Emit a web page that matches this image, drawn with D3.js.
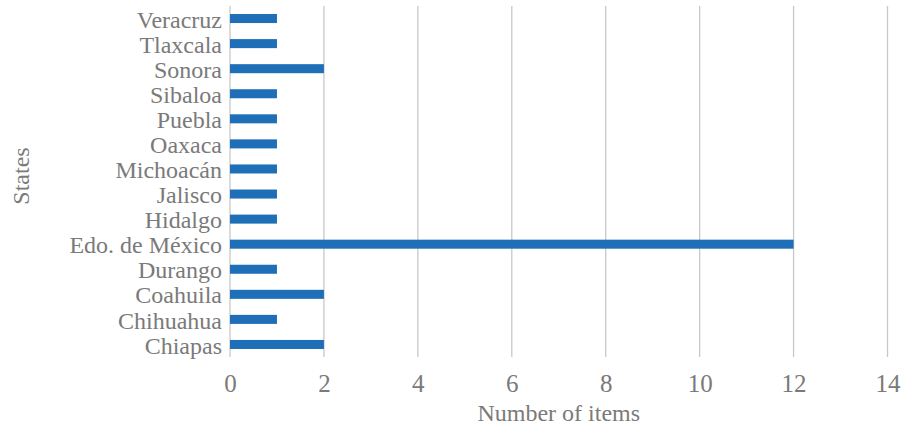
<!DOCTYPE html>
<html>
<head>
<meta charset="utf-8">
<script src="https://cdn.jsdelivr.net/npm/d3@7"></script>
<style>
  body { margin: 0; background: #fff; }
  text { fill: #7a7a7a; }
</style>
</head>
<body>
<div id="chart"></div>
<script>
// categories, top to bottom
var states = ["Veracruz", "Tlaxcala", "Sonora", "Sibaloa", "Puebla", "Oaxaca", "Michoacán",
              "Jalisco", "Hidalgo", "Edo. de México", "Durango", "Coahuila", "Chihuahua", "Chiapas"];
var items = [1, 1, 2, 1, 1, 1, 1, 1, 1, 12, 1, 2, 1, 2];
var xTicks = [0, 2, 4, 6, 8, 10, 12, 14];

var serif = "'Liberation Serif', 'DejaVu Serif', serif";
var W = 908, H = 431;
var plotLeft = 230, plotRight = 887.5, plotTop = 6, plotBottom = 357;

var svg = d3.select("#chart").append("svg")
    .attr("width", W)
    .attr("height", H)
    .attr("font-family", serif);

var x = d3.scaleLinear().domain([0, 14]).range([plotLeft, plotRight]);
var y = d3.scaleBand().domain(states).range([plotTop, plotBottom]).paddingInner(0.64).paddingOuter(0.32);

// grid lines
svg.selectAll(".grid")
    .data(xTicks)
    .enter()
    .append("line")
        .attr("x1", d => x(d))
        .attr("x2", d => x(d))
        .attr("y1", plotTop)
        .attr("y2", plotBottom)
        .style("stroke", "#c8c8c8")
        .style("stroke-width", 1.3);

// bars
svg.selectAll(".bar")
    .data(states)
    .enter()
    .append("rect")
        .attr("x", x(0))
        .attr("y", d => y(d))
        .attr("width", (d, i) => x(items[i]) - x(0))
        .attr("height", y.bandwidth())
        .style("fill", "#1f6fb8");

// axes (lines hidden, labels only)
var axisBottom = d3.axisBottom(x).tickValues(xTicks).tickSize(0).tickPadding(17);
var gx = svg.append("g")
    .attr("transform", "translate(0," + plotBottom + ")")
    .call(axisBottom)
    .attr("font-family", serif)
    .attr("font-size", 25);
gx.select(".domain").remove();
gx.selectAll("text").attr("fill", "#7a7a7a");

var axisLeft = d3.axisLeft(y).tickSize(0).tickPadding(8);
var gy = svg.append("g")
    .attr("transform", "translate(" + plotLeft + ",0)")
    .call(axisLeft)
    .attr("font-family", serif)
    .attr("font-size", 24);
gy.select(".domain").remove();
gy.selectAll("text").attr("fill", "#7a7a7a").attr("dy", "0.38em");

// axis titles
svg.append("text")
    .attr("x", (plotLeft + plotRight) / 2)
    .attr("y", 421)
    .attr("text-anchor", "middle")
    .attr("font-size", 24)
    .text("Number of items");

svg.append("text")
    .attr("transform", "translate(29,176) rotate(-90)")
    .attr("text-anchor", "middle")
    .attr("font-size", 24)
    .text("States");
</script>
</body>
</html>
